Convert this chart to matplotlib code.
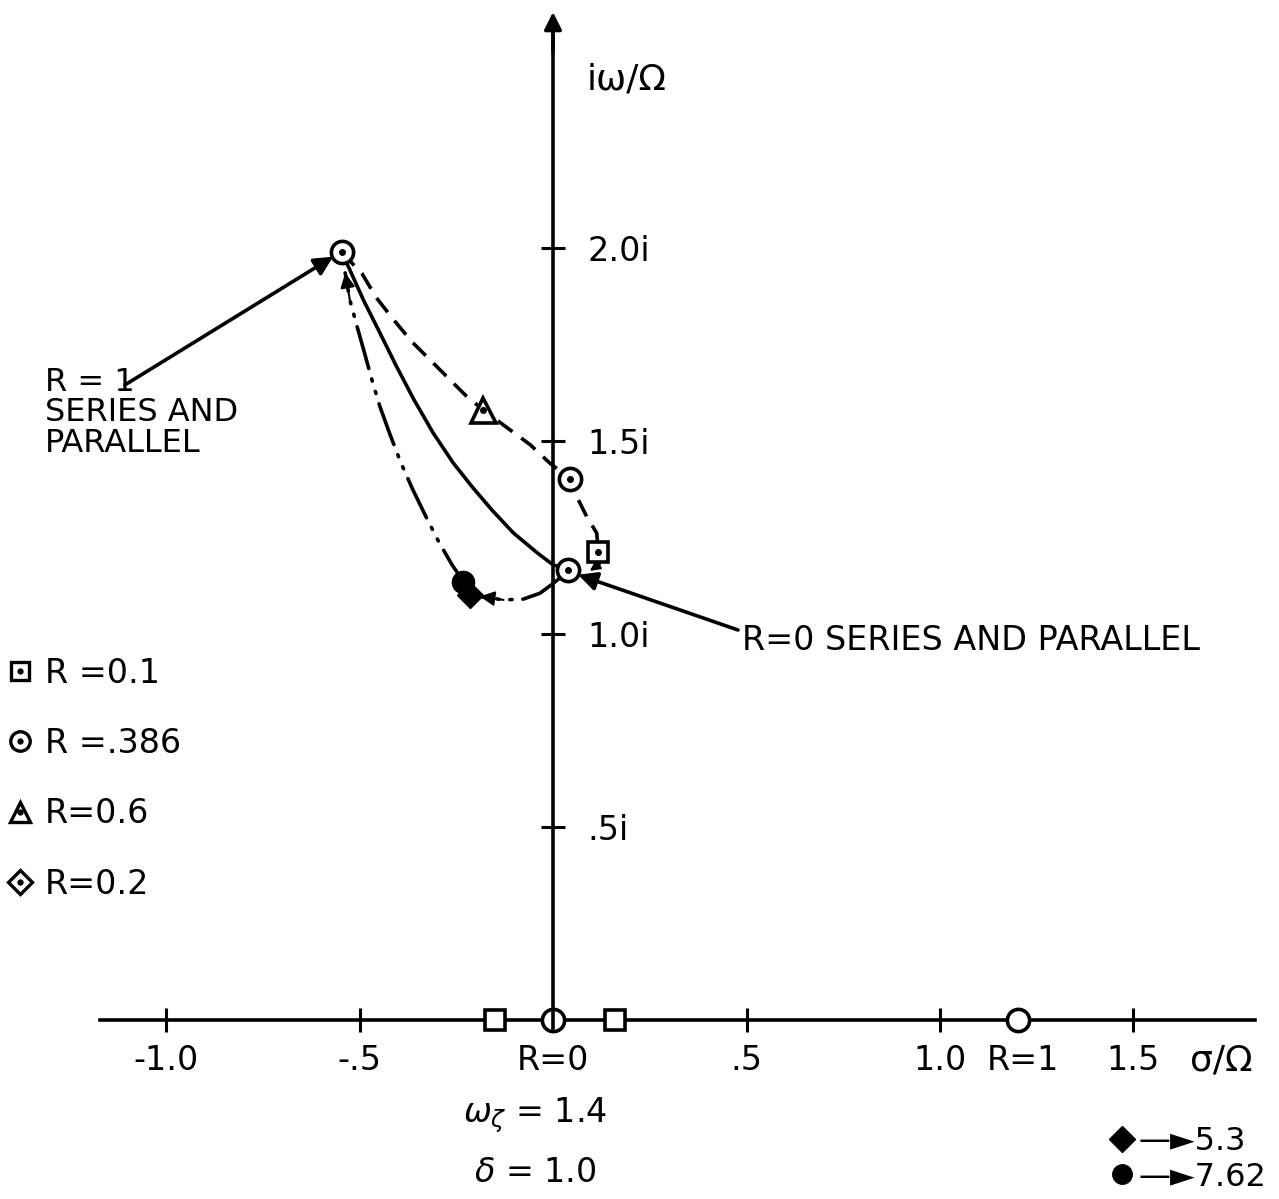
import numpy as np
import matplotlib.pyplot as plt
from matplotlib.lines import Line2D

plt.rcParams['font.family'] = ['DejaVu Sans']
plt.rcParams['font.size'] = 24

# values (sigma/Omega, omega/Omega)
dash_x = [-0.546, -0.494, -0.456, -0.408, -0.365, -0.318, -0.275, -0.223, -0.180,
          -0.128, -0.059, -0.008, 0.044, 0.061, 0.087, 0.113, 0.117, 0.119, 0.095]
dash_y = [1.988, 1.934, 1.870, 1.809, 1.757, 1.710, 1.667, 1.615, 1.580,
          1.541, 1.490, 1.442, 1.402, 1.356, 1.304, 1.261, 1.211, 1.180, 1.163]

solid_x = [0.039, 0.000, -0.041, -0.103, -0.158, -0.209, -0.258, -0.310, -0.359,
           -0.404, -0.447, -0.490, -0.525, -0.546]
solid_y = [1.166, 1.179, 1.210, 1.262, 1.321, 1.381, 1.443, 1.521, 1.606,
           1.692, 1.779, 1.865, 1.943, 1.988]

ddot_up_x = [-0.222, -0.261, -0.295, -0.328, -0.362, -0.393, -0.421, -0.447, -0.468,
             -0.488, -0.506, -0.525, -0.537]
ddot_up_y = [1.122, 1.179, 1.238, 1.303, 1.373, 1.443, 1.516, 1.588, 1.658,
             1.731, 1.795, 1.865, 1.935]

ddot_low_x = [0.018, 0.001, -0.034, -0.077, -0.128, -0.189]
ddot_low_y = [1.145, 1.131, 1.105, 1.090, 1.088, 1.097]

# marked roots
ring_x = [-0.546, 0.039, 0.044]      # R=1, R=0, R=.386
ring_y = [1.988, 1.166, 1.402]
tri_x, tri_y = [-0.180], [1.580]      # R=0.6
sq_x, sq_y = [0.117], [1.211]         # R=0.1
blob_circ = (-0.233, 1.134)           # R -> 7.62
blob_diam = (-0.214, 1.101)           # R -> 5.3

# real-axis roots
axis_sq_x = [-0.150, 0.160]
axis_ring_x = [0.0, 1.202]

xticks = [-1.0, -0.5, 0.5, 1.0, 1.5]
xlabels = ['-1.0', '-.5', '.5', '1.0', '1.5']
yticks = [0.5, 1.0, 1.5, 2.0]
ylabels = ['.5i', '1.0i', '1.5i', '2.0i']

LW = 2.6

fig = plt.figure(figsize=(12.79, 11.99), dpi=100)
ax = fig.add_axes([0, 0, 1, 1])
ax.set_xlim(-1.429, 1.876)
ax.set_ylim(-0.464, 2.642)

# axes through the origin
for s in ['top', 'right']:
    ax.spines[s].set_visible(False)
ax.spines['left'].set_position(('data', 0))
ax.spines['bottom'].set_position(('data', 0))
ax.spines['left'].set_bounds(0, 2.58)
ax.spines['bottom'].set_bounds(-1.171, 1.814)
ax.spines['left'].set_linewidth(LW)
ax.spines['bottom'].set_linewidth(LW)
ax.annotate('', xy=(0, 2.618), xytext=(0, 2.50),
            arrowprops=dict(arrowstyle='-|>', color='black', lw=LW,
                            mutation_scale=26))

ax.set_xticks(xticks)
ax.set_xticklabels(xlabels)
ax.set_yticks(yticks)
ax.set_yticklabels(ylabels)
ax.tick_params(direction='inout', length=17, width=2.2, labelsize=24)
ax.tick_params(axis='x', pad=9)
ax.tick_params(axis='y', pad=-33)
for t in ax.get_yticklabels():
    t.set_ha('left')
ax.set_xticks([0.0, 1.215], minor=True)
ax.set_xticklabels(['R=0', 'R=1'], minor=True)
ax.tick_params(axis='x', which='minor', length=0, pad=17.5, labelsize=24)

# loci
ax.plot(solid_x, solid_y, color='black', lw=LW, solid_capstyle='round',
        solid_joinstyle='round')
ax.plot(dash_x, dash_y, color='black', lw=LW, linestyle=(0, (5, 3)))
ddot = (0, (12, 3, 0.6, 3, 0.6, 3))
ax.plot(ddot_up_x, ddot_up_y, color='black', lw=LW, linestyle=ddot, dash_capstyle='round')
ax.plot(ddot_low_x, ddot_low_y, color='black', lw=LW, linestyle=ddot, dash_capstyle='round')

# arrowheads at the ends of the loci
for xs, ys, ms in [(dash_x, dash_y, 15), (ddot_low_x, ddot_low_y, 22), (ddot_up_x, ddot_up_y, 22)]:
    ax.annotate('', xy=(xs[-1], ys[-1]), xytext=(xs[-2], ys[-2]),
                arrowprops=dict(arrowstyle='-|>', color='black', lw=1.5,
                                mutation_scale=ms, shrinkA=0, shrinkB=0))

# markers
ax.plot(ring_x, ring_y, 'o', ms=16, mfc='white', mec='black', mew=2.6, zorder=5)
ax.plot(tri_x, tri_y, '^', ms=18, mfc='white', mec='black', mew=2.6, zorder=5)
ax.plot(sq_x, sq_y, 's', ms=14, mfc='white', mec='black', mew=2.6, zorder=5)
ax.plot(ring_x + tri_x + sq_x, ring_y + tri_y + sq_y, 'o', ms=4, color='black', zorder=6)
ax.plot([blob_circ[0]], [blob_circ[1]], 'o', ms=16, color='black', zorder=5)
ax.plot([blob_diam[0]], [blob_diam[1]], 'D', ms=13, color='black', zorder=5)

ax.plot(axis_sq_x, [0] * len(axis_sq_x), 's', ms=15, mfc='white', mec='black',
        mew=2.6, zorder=5, clip_on=False)
ax.plot(axis_ring_x, [0] * len(axis_ring_x), 'o', ms=16, mfc='white', mec='black',
        mew=2.6, zorder=5, clip_on=False)
ax.plot([0, 0], [-0.02, 0.02], color='black', lw=LW, zorder=6)

# annotations
ax.text(0.088, 2.435, 'iω/Ω', fontsize=26, va='center', ha='left')
ax.text(1.646, -0.104, 'σ/Ω', fontsize=26, va='center', ha='left')

ax.text(-1.313, 1.692, 'R = 1\nSERIES AND\nPARALLEL', fontsize=23,
        va='top', ha='left', linespacing=0.98)
ax.annotate('', xy=(-0.568, 1.977), xytext=(-1.106, 1.645),
            arrowprops=dict(arrowstyle='-|>', color='black', lw=LW,
                            mutation_scale=28, shrinkA=0, shrinkB=0))

ax.text(0.488, 0.984, 'R=0 SERIES AND PARALLEL', fontsize=24,
        va='center', ha='left')
ax.annotate('', xy=(0.065, 1.153), xytext=(0.478, 1.010),
            arrowprops=dict(arrowstyle='-|>', color='black', lw=LW,
                            mutation_scale=28, shrinkA=0, shrinkB=0))

ax.text(-0.047, -0.246, r'$\omega_\zeta$ = 1.4', fontsize=24, va='center', ha='center')
ax.text(-0.047, -0.396, r'$\delta$ = 1.0', fontsize=24, va='center', ha='center')


# symbol key on the left (open symbol with a centre dot)
def dotted(marker, ms):
    return (Line2D([], [], ls='none', marker=marker, ms=ms, mfc='white', mec='black', mew=2.4),
            Line2D([], [], ls='none', marker='o', ms=3.5, color='black'))


key = [dotted('s', 13), dotted('o', 14), dotted('^', 15), dotted('D', 12)]
leg1 = ax.legend(key, ['R =0.1', 'R =.386', 'R=0.6', 'R=0.2'], loc='upper left',
                 bbox_to_anchor=(0.0, 0.458), frameon=False, fontsize=24,
                 handlelength=0.8, handletextpad=0.35, labelspacing=1.12,
                 borderpad=0.2, borderaxespad=0)
ax.add_artist(leg1)

key2 = [Line2D([], [], ls='none', marker='D', ms=13, color='black'),
        Line2D([], [], ls='none', marker='o', ms=14, color='black')]
ax.legend(key2, ['\u2014\u25ba5.3', '\u2014\u25ba7.62'], loc='lower right',
          bbox_to_anchor=(0.995, 0.0), frameon=False, fontsize=23,
          handlelength=0.8, handletextpad=0.1, labelspacing=0.15,
          borderpad=0.2, borderaxespad=0)

plt.savefig('out.png', dpi=100)
